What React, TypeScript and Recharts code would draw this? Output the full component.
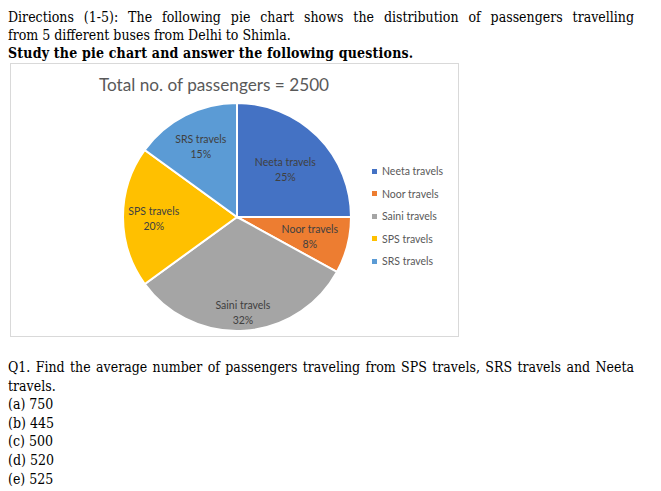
import React from "react";
import { PieChart, Pie, Cell, Legend } from "recharts";

const buses = ["Neeta travels", "Noor travels", "Saini travels", "SPS travels", "SRS travels"];
const shares = [25, 8, 32, 20, 15];
const colors = ["#4472C4", "#ED7D31", "#A5A5A5", "#FFC000", "#5B9BD5"];
const total = 2500;

const introLines = [
  "Directions (1-5): The following pie chart shows the distribution of passengers travelling",
  "from 5 different buses from Delhi to Shimla.",
];
const studyLine = "Study the pie chart and answer the following questions.";
const questionLines = [
  "Q1. Find the average number of passengers traveling from SPS travels, SRS travels and Neeta",
  "travels.",
];
const options = ["(a) 750", "(b) 445", "(c) 500", "(d) 520", "(e) 525"];

const data = buses.map((name, i) => ({ name, value: shares[i], color: colors[i] }));

// excel "best fit" puts the labels at slightly different depths
const labelDepth: Record<string, number> = {
  "Neeta travels": 0.6,
  "Noor travels": 0.66,
  "Saini travels": 0.83,
  "SPS travels": 0.73,
  "SRS travels": 0.7,
};

const RAD = Math.PI / 180;
const chartFont = "Lato, 'Liberation Sans', sans-serif";
const bodyFont = "'DejaVu Serif Condensed', 'DejaVu Serif', serif";

const SliceLabel = (props: any) => {
  const { cx, cy, midAngle, outerRadius, name, value } = props;
  const r = outerRadius * (labelDepth[name] ?? 0.7);
  const x = cx + r * Math.cos(-midAngle * RAD);
  const y = cy + r * Math.sin(-midAngle * RAD);
  return (
    <text x={x} y={y} textAnchor="middle" fill="#404040" fontSize={10.5} fontFamily={chartFont}>
      <tspan x={x} dy={-2.5}>{name}</tspan>
      <tspan x={x} dy={15}>{value}%</tspan>
    </text>
  );
};

const LegendList = ({ payload }: any) => {
  const items = [...(payload || [])].sort(
    (a: any, b: any) => buses.indexOf(a.value) - buses.indexOf(b.value)
  );
  return (
    <div style={{ fontFamily: chartFont, fontSize: 10.5, color: "#595959" }}>
      {items.map((p: any, i: number) => (
        <div key={i} style={{ display: "flex", alignItems: "center", height: 22.5 }}>
          <span style={{ width: 5, height: 5, background: p.color, marginRight: 5 }} />
          {p.value}
        </div>
      ))}
    </div>
  );
};

const line = (top: number, extra: React.CSSProperties = {}): React.CSSProperties => ({
  position: "absolute",
  left: 8,
  top,
  whiteSpace: "nowrap",
  fontFamily: bodyFont,
  fontStretch: "condensed",
  fontSize: 14,
  lineHeight: "19px",
  color: "#000",
  ...extra,
});

export default function App() {
  return (
    <div style={{ position: "absolute", left: 0, top: 0, width: 661, height: 491, background: "#fff" }}>
      <div style={line(8, { width: 626, textAlign: "justify", textAlignLast: "justify" })}>{introLines[0]}</div>
      <div style={line(26)}>{introLines[1]}</div>
      <div style={line(44, { fontWeight: "bold", letterSpacing: 0.2 })}>{studyLine}</div>

      <div
        style={{
          position: "absolute",
          left: 10,
          top: 63,
          width: 447,
          height: 272,
          border: "1px solid #D9D9D9",
          boxSizing: "content-box",
        }}
      >
        <PieChart width={447} height={272} margin={{ top: 0, right: 0, bottom: 0, left: 0 }}>
          <text x={203} y={27} textAnchor="middle" fill="#595959" fontSize={17.2} fontFamily={chartFont}>
            Total no. of passengers = {total}
          </text>
          <Pie
            data={data}
            dataKey="value"
            nameKey="name"
            cx={226}
            cy={153}
            outerRadius={114}
            startAngle={90}
            endAngle={-270}
            stroke="#fff"
            strokeWidth={2}
            labelLine={false}
            label={SliceLabel}
            isAnimationActive={false}
          >
            {data.map((d, i) => (
              <Cell key={i} fill={d.color} />
            ))}
          </Pie>
          <Legend
            layout="vertical"
            content={<LegendList />}
            wrapperStyle={{ left: 361, top: 96, width: 90 }}
          />
        </PieChart>
      </div>

      <div style={line(358, { width: 626, textAlign: "justify", textAlignLast: "justify" })}>{questionLines[0]}</div>
      <div style={line(376.5)}>{questionLines[1]}</div>
      {options.map((o, i) => (
        <div key={o} style={line(395 + i * 18.7)}>
          {o}
        </div>
      ))}
    </div>
  );
}
